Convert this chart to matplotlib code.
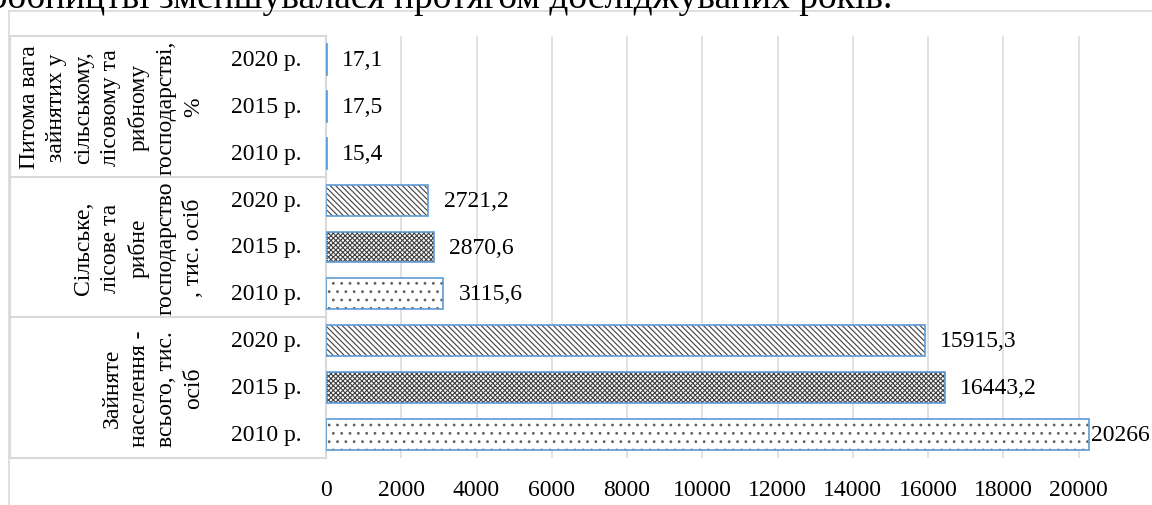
import matplotlib
matplotlib.use("Agg")
import matplotlib.pyplot as plt
import matplotlib.transforms as mtransforms

plt.rcParams['font.family'] = ['Liberation Serif', 'DejaVu Serif']
plt.rcParams['hatch.linewidth'] = 0.8

# дані (знизу вгору)
groups = ["Зайняте\nнаселення -\nвсього, тис.\nосіб",
          "Сільське,\nлісове та\nрибне\nгосподарство\n, тис. осіб",
          "Питома вага\nзайнятих у\nсільському,\nлісовому та\nрибному\nгосподарстві,\n%"]
years = ["2010 р.", "2015 р.", "2020 р."]
values_total = [20266, 16443.2, 15915.3]
values_agri = [3115.6, 2870.6, 2721.2]
values_share = [15.4, 17.5, 17.1]
xticks = list(range(0, 20001, 2000))

values = values_total + values_agri + values_share
labels_years = years * 3
hatches = {"2010 р.": "..", "2015 р.": "xxxxxxx", "2020 р.": "\\\\\\\\\\\\"}
hcolors = {"2010 р.": "#606060", "2015 р.": "#404040", "2020 р.": "#404040"}

W, H = 1152, 506
fig = plt.figure(figsize=(W / 100, H / 100), dpi=100)
ax = fig.add_axes([326 / W, 1 - 459 / H, 824 / W, 422 / H])

ypos = list(range(len(values)))
for y, v, yr in zip(ypos, values, labels_years):
    ax.barh(y, v, height=0.66, color="white", edgecolor=hcolors[yr],
            linewidth=0, hatch=hatches[yr], zorder=2)
    ax.barh(y, v, height=0.66, fill=False, edgecolor="#5B9BD5",
            linewidth=1.2, zorder=3)
    txt = f"{v:.0f}" if float(v).is_integer() else f"{v:.1f}".replace(".", ",")
    off = 2 if v == max(values) else 11
    ax.annotate(txt, xy=(v, y), xytext=(off, 0), textcoords="offset points",
                ha="left", va="center", fontsize=17, annotation_clip=False)

ax.set_xlim(0, 21900)
ax.set_ylim(-0.5, len(values) - 0.5)
ax.set_xticks(xticks)
ax.set_xticklabels([str(t) for t in xticks], fontsize=17)
ax.tick_params(axis="x", length=0, pad=15)
ax.set_yticks([])
for s in ax.spines.values():
    s.set_visible(False)
ax.grid(axis="x", color="#d9d9d9", linewidth=1.1, zorder=0)
ax.set_axisbelow(True)

# багаторівнева вісь категорій
tr = mtransforms.blended_transform_factory(fig.transFigure, ax.transData)
gc = "#d9d9d9"
xl, xr = 10 / W, 326 / W
for yb in [-0.5, 2.5, 5.5, 8.5]:
    ax.plot([xl, xr], [yb, yb], color=gc, lw=1.5, transform=tr, clip_on=False)
for xv in [xl, xr]:
    ax.plot([xv, xv], [-0.5, 8.5], color=gc, lw=1.5, transform=tr, clip_on=False)

for y, yr in zip(ypos, labels_years):
    ax.text(266 / W, y, yr, transform=tr, ha="center", va="center", fontsize=17)

for i, g in enumerate(groups):
    ax.text(204 / W, 3 * i + 1, g, transform=tr, rotation=90, ha="right",
            va="center", multialignment="center", fontsize=17, linespacing=1.38)

# рамка діаграми
fig.add_artist(plt.Line2D([9 / W, 1], [1 - 12 / H, 1 - 12 / H], color=gc, lw=1.2))
fig.add_artist(plt.Line2D([9 / W, 9 / W], [0, 1 - 12 / H], color=gc, lw=1.2))

# обрізаний рядок тексту над діаграмою
fig.text(892 / W, 1 - 8 / H, "виробництві зменшувалася протягом досліджуваних років.",
         ha="right", va="baseline", fontsize=27)

fig.savefig("out.png", dpi=100)
